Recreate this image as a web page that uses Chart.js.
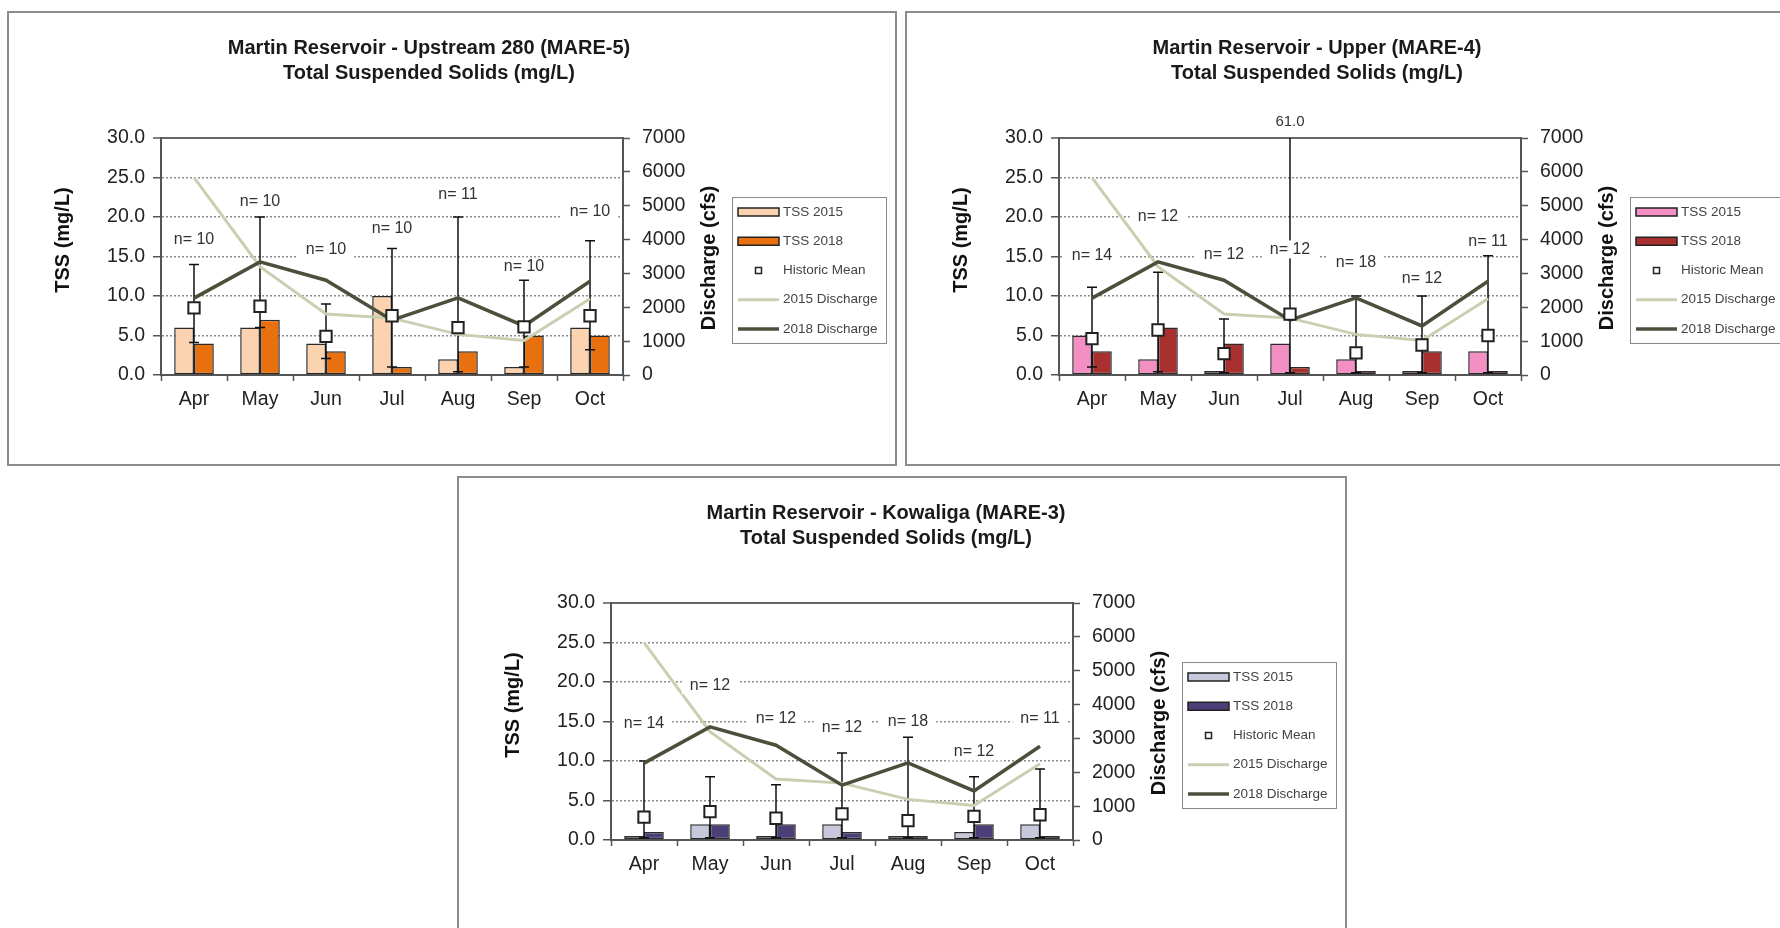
<!DOCTYPE html>
<html>
<head>
<meta charset="utf-8">
<script src="https://cdn.jsdelivr.net/npm/chart.js@4.4.1/dist/chart.umd.min.js"></script>
<style>
  body { margin: 0; background: #fff; width: 1780px; height: 928px; overflow: hidden; position: relative; }
  .panel { position: absolute; width: 890px; height: 455px; border: 2px solid #8c8c8c; box-sizing: border-box; background: #fff; }
  .panel canvas { display: block; }
</style>
</head>
<body>
<div class="panel" style="left:7px;top:11px"><canvas id="mare5" width="886" height="451"></canvas></div>
<div class="panel" style="left:905px;top:11px"><canvas id="mare4" width="886" height="451"></canvas></div>
<div class="panel" style="left:457px;top:476px"><canvas id="mare3" width="886" height="451"></canvas></div>
<script>
// shared across the three stations
const months = ["Apr", "May", "Jun", "Jul", "Aug", "Sep", "Oct"];
const discharge2015 = [5830, 3200, 1800, 1680, 1200, 1020, 2250];
const discharge2018 = [2270, 3340, 2800, 1620, 2280, 1450, 2770];
const tssTickStep = 5;
const flowTickStep = 1000;

// Upstream 280 (MARE-5)
const mare5Tss2015 = [6, 6, 4, 10, 2, 1, 6];
const mare5Tss2018 = [4, 7, 3, 1, 3, 5, 5];
const mare5Mean = [8.5, 8.7, 4.9, 7.5, 6.0, 6.1, 7.5];
const mare5ErrHigh = [14, 20, 9, 16, 20, 12, 17];
const mare5ErrLow = [4.1, 6, 2.1, 1, 0.4, 1, 3.2];
const mare5N = [10, 10, 10, 10, 11, 10, 10];
const mare5NAt = [17.1, 21.9, 15.9, 18.5, 22.8, 13.7, 20.7];

// Upper (MARE-4)
const mare4Tss2015 = [5, 2, 0.5, 4, 2, 0.5, 3];
const mare4Tss2018 = [3, 6, 4, 1, 0.5, 3, 0.5];
const mare4Mean = [4.6, 5.7, 2.7, 7.7, 2.8, 3.8, 5.0];
const mare4ErrHigh = [11.1, 13, 7.1, 61, 10, 10, 15.1];
const mare4ErrLow = [1, 0.4, 0.3, 0.3, 0.3, 0.3, 0.3];
const mare4N = [14, 12, 12, 12, 18, 12, 11];
const mare4NAt = [15.1, 20.1, 15.2, 15.9, 14.2, 12.2, 16.9];

// Kowaliga (MARE-3)
const mare3Tss2015 = [0.5, 2, 0.5, 2, 0.5, 1, 2];
const mare3Tss2018 = [1, 2, 2, 1, 0.5, 2, 0.5];
const mare3Mean = [2.9, 3.6, 2.75, 3.3, 2.45, 3.0, 3.2];
const mare3ErrHigh = [10, 8, 7, 11, 13, 8, 9];
const mare3ErrLow = [0.3, 0.3, 0.3, 0.3, 0.3, 0.3, 0.3];
const mare3N = [14, 12, 12, 12, 18, 12, 11];
const mare3NAt = [14.7, 19.6, 15.4, 14.2, 15.0, 11.2, 15.4];

Chart.defaults.font.family = '"Liberation Sans", Arial, sans-serif';
Chart.defaults.color = "#222";

const FONT = '"Liberation Sans", Arial, sans-serif';

// error bars, n= labels, axis titles and the boxed legend
function panelExtras(p) {
  return {
    id: "panelExtras",
    afterDatasetDraw(chart, args) {
      // TSS 2015 bars are drawn last of the two bar sets
      if (args.index !== 0) return;
      const { ctx } = chart;
      const x = chart.scales.x;
      const y = chart.scales.y;
      ctx.save();
      ctx.strokeStyle = "#111";
      ctx.lineWidth = 1.5;
      p.errHigh.forEach((hi, i) => {
        const px = x.getPixelForValue(i);
        const clipped = hi > y.max;
        const yHi = y.getPixelForValue(Math.min(hi, y.max));
        const yLo = y.getPixelForValue(p.errLow[i]);
        ctx.beginPath();
        ctx.moveTo(px, yHi);
        ctx.lineTo(px, yLo);
        if (!clipped) {
          ctx.moveTo(px - 5, yHi);
          ctx.lineTo(px + 5, yHi);
        }
        ctx.moveTo(px - 5, yLo);
        ctx.lineTo(px + 5, yLo);
        ctx.stroke();
      });
      ctx.restore();
    },
    afterDatasetsDraw(chart) {
      const { ctx, chartArea } = chart;
      const x = chart.scales.x;
      const y = chart.scales.y;
      ctx.save();
      ctx.font = "16px " + FONT;
      ctx.textAlign = "center";
      ctx.textBaseline = "middle";
      p.n.forEach((n, i) => {
        const txt = "n= " + n;
        const px = x.getPixelForValue(i);
        const py = y.getPixelForValue(p.nAt[i]);
        const w = ctx.measureText(txt).width + 16;
        ctx.fillStyle = "#fff";
        ctx.fillRect(px - w / 2, py - 9, w, 18);
        ctx.fillStyle = "#333";
        ctx.fillText(txt, px, py);
      });
      // off-scale error bar value
      ctx.font = "15px " + FONT;
      p.errHigh.forEach((hi, i) => {
        if (hi > y.max) {
          ctx.fillStyle = "#333";
          ctx.fillText(hi.toFixed(1), x.getPixelForValue(i), chartArea.top - 16);
        }
      });
      ctx.restore();
    },
    afterDraw(chart) {
      const { ctx, chartArea } = chart;
      const ds = chart.data.datasets;
      ctx.save();
      ctx.fillStyle = "#111";
      ctx.font = "bold 20px " + FONT;
      ctx.textAlign = "center";
      ctx.textBaseline = "middle";
      ctx.translate(54, 227);
      ctx.rotate(-Math.PI / 2);
      ctx.fillText("TSS (mg/L)", 0, 0);
      ctx.restore();

      ctx.save();
      ctx.fillStyle = "#111";
      ctx.font = "bold 20px " + FONT;
      ctx.textAlign = "center";
      ctx.textBaseline = "middle";
      ctx.translate(chartArea.right + 86, 245);
      ctx.rotate(-Math.PI / 2);
      ctx.fillText("Discharge (cfs)", 0, 0);
      ctx.restore();

      // legend
      const lx = 723, ly = 184;
      ctx.save();
      ctx.strokeStyle = "#8a8a8a";
      ctx.lineWidth = 1;
      ctx.strokeRect(lx + 0.5, ly + 0.5, 154, 146);
      ctx.font = "13.5px " + FONT;
      ctx.textBaseline = "middle";
      ds.forEach((d, i) => {
        const cy = ly + 15 + i * 29.25;
        const sx = lx + 6;
        if (d.type === undefined) {
          ctx.fillStyle = d.backgroundColor;
          ctx.fillRect(sx, cy - 4, 41, 8);
          ctx.strokeStyle = "#222";
          ctx.lineWidth = 1.5;
          ctx.strokeRect(sx, cy - 4, 41, 8);
        } else if (d.showLine === false) {
          ctx.fillStyle = "#fff";
          ctx.strokeStyle = "#222";
          ctx.lineWidth = 1.5;
          ctx.fillRect(sx + 17.5, cy - 3, 6, 6);
          ctx.strokeRect(sx + 17.5, cy - 3, 6, 6);
        } else {
          ctx.strokeStyle = d.borderColor;
          ctx.lineWidth = d.borderWidth;
          ctx.beginPath();
          ctx.moveTo(sx, cy);
          ctx.lineTo(sx + 41, cy);
          ctx.stroke();
        }
        ctx.fillStyle = "#444";
        ctx.fillText(d.label, lx + 51, cy);
      });
      ctx.restore();
    },
  };
}

function makePanel(id, p) {
  const ctx = document.getElementById(id).getContext("2d");
  const bar = {
    borderColor: "#2b2b2b",
    borderWidth: 1.5,
    borderSkipped: false,
    categoryPercentage: 0.6,
    barPercentage: 1,
    yAxisID: "y",
  };
  return new Chart(ctx, {
    type: "bar",
    data: {
      labels: months,
      datasets: [
        { ...bar, label: "TSS 2015", data: p.tss2015, backgroundColor: p.color2015, order: 4 },
        { ...bar, label: "TSS 2018", data: p.tss2018, backgroundColor: p.color2018, order: 5 },
        {
          type: "line",
          label: "Historic Mean",
          data: p.mean,
          showLine: false,
          pointStyle: "rect",
          pointRadius: 8,
          pointBorderWidth: 2,
          pointBackgroundColor: "#fff",
          pointBorderColor: "#222",
          yAxisID: "y",
          order: 1,
        },
        {
          type: "line",
          label: "2015 Discharge",
          data: discharge2015,
          borderColor: "#cdcdb2",
          borderWidth: 3,
          pointRadius: 0,
          tension: 0,
          yAxisID: "y1",
          order: 3,
        },
        {
          type: "line",
          label: "2018 Discharge",
          data: discharge2018,
          borderColor: "#4b503d",
          borderWidth: 3.5,
          pointRadius: 0,
          tension: 0,
          yAxisID: "y1",
          order: 2,
        },
      ],
    },
    options: {
      responsive: false,
      animation: false,
      layout: { padding: { left: 0, right: p.padRight, top: 0, bottom: 0 } },
      plugins: {
        legend: { display: false },
        tooltip: { enabled: false },
        title: {
          display: true,
          text: p.title,
          color: "#1a1a1a",
          font: { size: 20, weight: "bold", lineHeight: "25px" },
          padding: { top: 22.5, bottom: 52.5 },
        },
      },
      scales: {
        x: {
          offset: true,
          grid: { offset: true, drawOnChartArea: false, tickLength: 6, tickColor: "#555", tickWidth: 1.5 },
          border: { color: "#555", width: 2 },
          ticks: { font: { size: 19.5 }, color: "#222", padding: 7, maxRotation: 0 },
          afterFit: (s) => { s.height = 89; },
        },
        y: {
          position: "left",
          min: 0,
          max: 30,
          ticks: {
            stepSize: tssTickStep,
            font: { size: 19.5 },
            color: "#222",
            padding: 8,
            callback: (v) => v.toFixed(1),
          },
          grid: {
            color: (c) => (c.tick && c.tick.value === 30 ? "#666" : "#8c8c8c"),
            lineWidth: (c) => (c.tick && c.tick.value === 30 ? 2 : 1.5),
            tickLength: 8,
            tickColor: "#555",
            tickWidth: 1.5,
          },
          border: {
            color: "#555",
            width: 2,
            dash: (c) => (c.tick && c.tick.value > 0 && c.tick.value < 30 ? [2, 2] : []),
          },
          afterFit: (s) => { s.width = 152; },
        },
        y1: {
          position: "right",
          min: 0,
          max: 7000,
          ticks: {
            stepSize: flowTickStep,
            font: { size: 19.5 },
            color: "#222",
            padding: 12,
            callback: (v) => String(v),
          },
          grid: { drawOnChartArea: false, tickLength: 7, tickColor: "#555", tickWidth: 1.5 },
          border: { color: "#555", width: 2 },
          afterFit: (s) => { s.width = 886 - p.padRight - 614; },
        },
      },
    },
    plugins: [panelExtras(p)],
  });
}

makePanel("mare5", {
  title: ["Martin Reservoir - Upstream 280 (MARE-5)", "Total Suspended Solids (mg/L)"],
  tss2015: mare5Tss2015, tss2018: mare5Tss2018, mean: mare5Mean,
  errHigh: mare5ErrHigh, errLow: mare5ErrLow, n: mare5N, nAt: mare5NAt,
  color2015: "#fbd3b0", color2018: "#e8700e", padRight: 46,
});
makePanel("mare4", {
  title: ["Martin Reservoir - Upper (MARE-4)", "Total Suspended Solids (mg/L)"],
  tss2015: mare4Tss2015, tss2018: mare4Tss2018, mean: mare4Mean,
  errHigh: mare4ErrHigh, errLow: mare4ErrLow, n: mare4N, nAt: mare4NAt,
  color2015: "#f48fc4", color2018: "#a8302e", padRight: 66,
});
makePanel("mare3", {
  title: ["Martin Reservoir - Kowaliga (MARE-3)", "Total Suspended Solids (mg/L)"],
  tss2015: mare3Tss2015, tss2018: mare3Tss2018, mean: mare3Mean,
  errHigh: mare3ErrHigh, errLow: mare3ErrLow, n: mare3N, nAt: mare3NAt,
  color2015: "#c8c8dc", color2018: "#4c3f78", padRight: 32,
});
</script>
</body>
</html>
